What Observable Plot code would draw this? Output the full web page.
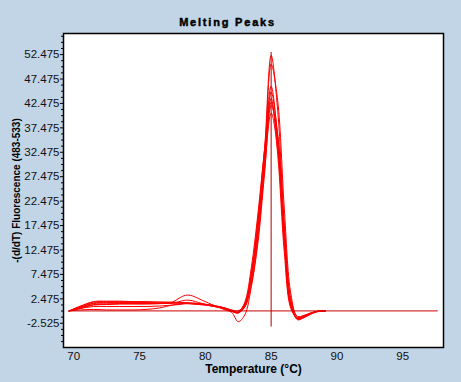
<!DOCTYPE html>
<html>
<head>
<meta charset="utf-8">
<script src="https://cdn.jsdelivr.net/npm/d3@7"></script>
<script src="https://cdn.jsdelivr.net/npm/@observablehq/plot@0.6"></script>
<style>
  html, body { margin: 0; padding: 0; background: #c1d5e6; }
  #chart { width: 461px; height: 382px; }
</style>
</head>
<body>
<div id="chart"></div>
<script>
// Temperatures (°C) at which each melting-peak curve is sampled
const temps = [69.65, 70.5, 71.5, 72.5, 73.5, 74.5, 75.5, 76.5, 77.5, 78.0, 78.5, 79.0, 79.5, 80.5, 81.5, 82.0, 82.5, 83.0, 83.5, 84.0, 84.5, 85.0, 85.5, 86.0, 86.5, 87.0, 87.5, 88.0, 88.5, 89.1];

// -(d/dT) Fluorescence values, one array per sample
const sample1 = [0, 1.0, 1.9, 2.0, 2.0, 1.9, 1.9, 1.8, 1.8, 1.7, 1.7, 1.6, 1.5, 1.2, 0.6, 0.2, 0.0, 1.5, 7, 18, 33, 52.3, 41, 18, 2.5, -1.1, -0.9, -0.4, -0.1, 0];
const sample2 = [0, 0.9, 1.8, 1.9, 1.9, 1.9, 1.8, 1.8, 1.7, 1.7, 1.6, 1.6, 1.5, 1.1, 0.5, 0.0, -0.3, 0.8, 5.5, 15, 30, 50.5, 43, 21, 3.5, -1.3, -1.0, -0.5, -0.1, 0];
const sample3 = [0, 0.8, 1.6, 1.7, 1.7, 1.7, 1.7, 1.6, 1.6, 1.6, 1.5, 1.5, 1.4, 1.1, 0.6, 0.1, -0.2, 1.5, 8, 19, 33, 46, 35, 14, 0.8, -1.5, -1.1, -0.5, -0.1, 0];
const sample4 = [0, 0.7, 1.5, 1.6, 1.6, 1.6, 1.6, 1.6, 1.6, 1.6, 1.6, 1.5, 1.4, 1.0, 0.4, -0.1, -0.4, 1.0, 7, 17, 31, 44.8, 36, 16, 1.5, -1.6, -1.2, -0.6, -0.1, 0];
const sample5 = [0, 0.5, 0.9, 0.9, 0.9, 0.9, 0.9, 1.0, 1.2, 1.3, 1.5, 1.5, 1.4, 1.1, 0.5, 0.0, -0.3, 1.8, 9, 20, 33, 43.5, 32, 12, 0.5, -1.4, -1.0, -0.5, -0.1, 0];
const sample6 = [0, 0.6, 1.3, 1.4, 1.5, 1.5, 1.5, 1.5, 1.6, 1.9, 2.2, 2.1, 1.7, 1.0, 0.5, 0.0, -0.4, 1.2, 7.5, 18, 31, 42.7, 34, 15, 1.2, -1.7, -1.3, -0.6, -0.1, 0];
const sample7 = [0, 0.5, 1.2, 1.3, 1.4, 1.4, 1.4, 1.5, 1.8, 2.6, 3.2, 3.1, 2.5, 1.3, 0.2, -0.3, -2.2, -0.8, 5, 14, 28, 42, 36, 17, 2, -1.8, -1.4, -0.7, -0.2, 0];
const sample8 = [0, 0.2, 0.3, 0.2, 0.2, 0.2, 0.3, 0.6, 1.2, 1.4, 1.5, 1.4, 1.3, 1.0, 0.4, -0.1, -0.4, 0.8, 6, 16, 29, 40.5, 33, 14, 1.0, -1.5, -1.1, -0.5, -0.1, 0];
const samples = [sample1, sample2, sample3, sample4, sample5, sample6, sample7, sample8];

// Reference lines: baseline at zero and Tm marker
const baselineValue = [0];
const baselineSpan = [69.65, 97.7];
const markerTemp = [85];
const markerSpan = [-3.3, 52.9];

// Axis ticks
const xTicks = [70, 75, 80, 85, 90, 95];
const yTicks = [-2.525, 2.475, 7.475, 12.475, 17.475, 22.475, 27.475, 32.475, 37.475, 42.475, 47.475, 52.475];
const yMinorTicks = [-6.275, -5.025, -3.775, -1.275, -0.025, 1.225, 3.725, 4.975, 6.225, 8.725, 9.975, 11.225, 13.725, 14.975, 16.225, 18.725, 19.975, 21.225, 23.725, 24.975, 26.225, 28.725, 29.975, 31.225, 33.725, 34.975, 36.225, 38.725, 39.975, 41.225, 43.725, 44.975, 46.225, 48.725, 49.975, 51.225, 53.725, 54.975, 56.225];

const title = "Melting Peaks";
const xTitle = "Temperature (°C)";
const yTitle = "-(d/dT) Fluorescence (483-533)";

const rows = samples.flatMap((vals, s) => vals.map((v, i) => ({sample: s, t: temps[i], v})));

const chart = Plot.plot({
  width: 461,
  height: 382,
  marginTop: 33,
  marginLeft: 63,
  marginRight: 18,
  marginBottom: 35,
  style: {background: "#c1d5e6", fontFamily: "'Liberation Sans', Arial, sans-serif", fontSize: "11px", color: "#000", overflow: "visible"},
  x: {domain: [69.22, 98.1]},
  y: {domain: [-7.49, 56.79]},
  marks: [
    Plot.frame({fill: "white", stroke: null}),
    Plot.line(rows, {x: "t", y: "v", z: "sample", stroke: "#ff0000", strokeWidth: 1, curve: "catmull-rom"}),
    Plot.ruleY(baselineValue, {x1: baselineSpan[0], x2: baselineSpan[1], stroke: "#cc0000", strokeWidth: 1}),
    Plot.ruleX(markerTemp, {y1: markerSpan[0], y2: markerSpan[1], stroke: "#b00000", strokeWidth: 1}),
    Plot.frame({stroke: "#000", strokeWidth: 1.5}),
    Plot.axisY(yMinorTicks, {tickSize: 2, tickFormat: () => "", label: null}),
    Plot.axisY(yTicks, {tickSize: 3, tickPadding: 1, tickFormat: d => d.toFixed(3), label: null, fontSize: 11.5, fill: "#111"}),
    Plot.axisX(xTicks, {tickSize: 0, tickPadding: 4, label: null, fontSize: 11.5, fill: "#111"}),
    Plot.text([title], {frameAnchor: "top", dx: -26, dy: -15, fontWeight: "bold", fontSize: 11, fill: "#000", stroke: "#000", strokeWidth: 0.45}),
    Plot.text([xTitle], {frameAnchor: "bottom", dy: 25.5, fontWeight: "bold", fontSize: 12, fill: "#000"}),
    Plot.text([yTitle], {frameAnchor: "left", dx: -47, rotate: -90, textAnchor: "middle", fontWeight: "bold", fontSize: 10, fill: "#000"})
  ]
});
d3.select(chart).selectAll("text").filter(function() { return this.textContent === title; })
  .style("letter-spacing", "1.8px");
document.getElementById("chart").appendChild(chart);
</script>
</body>
</html>
